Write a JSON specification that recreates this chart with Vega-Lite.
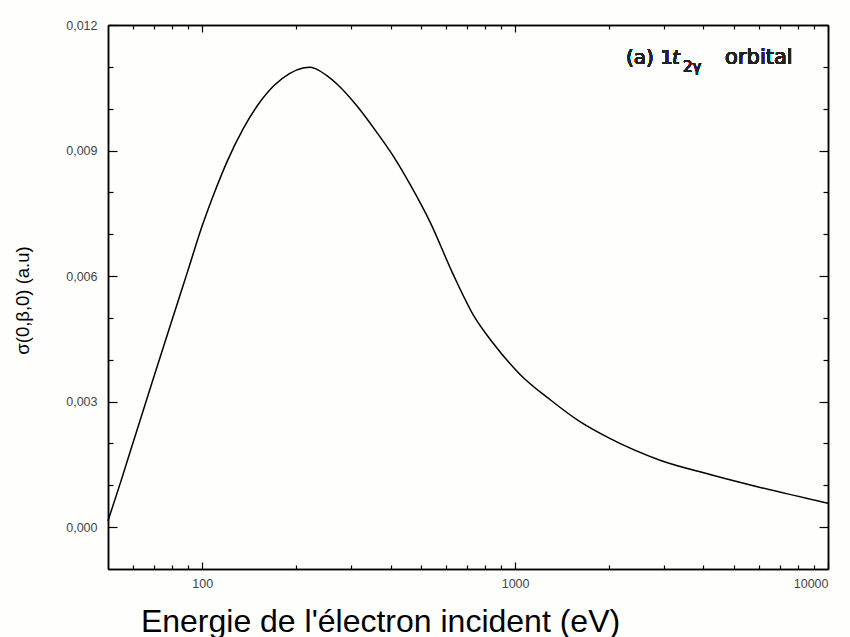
{
  "$schema": "https://vega.github.io/schema/vega-lite/v6.json",
  "width": 720,
  "height": 544,
  "autosize": {"type": "none"},
  "padding": {"left": 108, "top": 25, "right": 22, "bottom": 68},
  "background": "#fefefc",
  "config": {
    "view": {"stroke": null},
    "axis": {
      "grid": false,
      "domainColor": "black",
      "domainWidth": 1.5,
      "tickColor": "black",
      "tickWidth": 1.2,
      "labelFont": "Liberation Sans",
      "labelColor": "#444444",
      "labelFontSize": 12.5,
      "titleFont": "Liberation Sans",
      "titleFontWeight": "normal",
      "titleColor": "black"
    }
  },
  "data": {
    "values": [
      {"E": 50, "sigma": 0.00015},
      {"E": 55, "sigma": 0.0011},
      {"E": 60, "sigma": 0.002},
      {"E": 70, "sigma": 0.00358},
      {"E": 80, "sigma": 0.00494},
      {"E": 90, "sigma": 0.00613},
      {"E": 100, "sigma": 0.0072},
      {"E": 110, "sigma": 0.00804},
      {"E": 120, "sigma": 0.00873},
      {"E": 135, "sigma": 0.00951},
      {"E": 150, "sigma": 0.01007},
      {"E": 170, "sigma": 0.01056},
      {"E": 190, "sigma": 0.01084},
      {"E": 210, "sigma": 0.01097},
      {"E": 222, "sigma": 0.01099},
      {"E": 232.6, "sigma": 0.01094},
      {"E": 250.3, "sigma": 0.01079},
      {"E": 269.5, "sigma": 0.01059},
      {"E": 312, "sigma": 0.01007},
      {"E": 361, "sigma": 0.00944},
      {"E": 408.6, "sigma": 0.00886},
      {"E": 461.7, "sigma": 0.00819},
      {"E": 535, "sigma": 0.00729},
      {"E": 634, "sigma": 0.00604},
      {"E": 734, "sigma": 0.00508},
      {"E": 850, "sigma": 0.0044},
      {"E": 1037, "sigma": 0.00365},
      {"E": 1292, "sigma": 0.00305},
      {"E": 1612, "sigma": 0.00252},
      {"E": 2007, "sigma": 0.00212},
      {"E": 2904, "sigma": 0.0016},
      {"E": 4197, "sigma": 0.00126},
      {"E": 6075, "sigma": 0.00095},
      {"E": 10000, "sigma": 0.00057}
    ]
  },
  "resolve": {"axis": {"x": "independent", "y": "independent"}},
  "layer": [
    {
      "mark": {"type": "line", "color": "black", "strokeWidth": 1.5, "interpolate": "monotone"},
      "encoding": {
        "x": {
          "field": "E", "type": "quantitative",
          "scale": {"type": "log", "domain": [50, 10000], "nice": false},
          "axis": {
            "orient": "bottom", "values": [100, 1000, 10000], "format": "d",
            "tickSize": -7, "labelPadding": 15,
            "title": "Energie de l'électron incident  (eV)",
            "titleFontSize": 32, "titleX": 272, "titleY": 62,
            "titleAlign": "center", "titleBaseline": "alphabetic"
          }
        },
        "y": {
          "field": "sigma", "type": "quantitative",
          "scale": {"domain": [-0.001, 0.012], "nice": false, "zero": false},
          "axis": {
            "orient": "left", "values": [0, 0.003, 0.006, 0.009, 0.012],
            "tickSize": -9, "labelPadding": 20,
            "labelExpr": "replace(format(datum.value, '.3f'), '.', ',')",
            "title": "σ(0,β,0) (a.u)", "titleFontSize": 18.5,
            "titleX": -86, "titleY": 275, "titleAngle": -90,
            "titleAlign": "center", "titleBaseline": "middle"
          }
        }
      }
    },
    {
      "mark": {"type": "line", "strokeOpacity": 0},
      "encoding": {
        "x": {
          "field": "E", "type": "quantitative",
          "axis": {"orient": "bottom", "values": [60, 70, 80, 90, 200, 300, 400, 500, 600, 700, 800, 900, 2000, 3000, 4000, 5000, 6000, 7000, 8000, 9000], "tickSize": -4, "labels": false, "title": null}
        },
        "y": {
          "field": "sigma", "type": "quantitative",
          "axis": {"orient": "left", "values": [0.001, 0.002, 0.004, 0.005, 0.007, 0.008, 0.010, 0.011], "tickSize": -5, "labels": false, "title": null}
        }
      }
    },
    {
      "mark": {"type": "line", "strokeOpacity": 0},
      "encoding": {
        "x": {
          "field": "E", "type": "quantitative",
          "axis": {"orient": "top", "values": [100, 1000, 10000], "tickSize": -7, "labels": false, "title": null}
        },
        "y": {
          "field": "sigma", "type": "quantitative",
          "axis": {"orient": "right", "values": [0, 0.003, 0.006, 0.009, 0.012], "tickSize": -9, "labels": false, "title": null}
        }
      }
    },
    {
      "mark": {"type": "line", "strokeOpacity": 0},
      "encoding": {
        "x": {
          "field": "E", "type": "quantitative",
          "axis": {"orient": "top", "values": [60, 70, 80, 90, 200, 300, 400, 500, 600, 700, 800, 900, 2000, 3000, 4000, 5000, 6000, 7000, 8000, 9000], "tickSize": -4, "labels": false, "title": null}
        },
        "y": {
          "field": "sigma", "type": "quantitative",
          "axis": {"orient": "right", "values": [0.001, 0.002, 0.004, 0.005, 0.007, 0.008, 0.010, 0.011], "tickSize": -5, "labels": false, "title": null}
        }
      }
    },
    {
      "mark": {"type": "text", "text": "(a) 1", "font": "DejaVu Sans", "fontWeight": "normal", "fontSize": 20, "align": "left", "baseline": "alphabetic", "color": "#222222"},
      "encoding": {
        "x": {"datum": 2262, "type": "quantitative", "axis": null},
        "y": {"datum": 0.01106, "type": "quantitative", "axis": null}
      }
    },
    {
      "mark": {"type": "text", "text": "t", "font": "DejaVu Sans", "fontWeight": "normal", "fontSize": 20, "fontStyle": "italic", "align": "left", "baseline": "alphabetic", "color": "#222222"},
      "encoding": {
        "x": {"datum": 3174, "type": "quantitative", "axis": null},
        "y": {"datum": 0.01106, "type": "quantitative", "axis": null}
      }
    },
    {
      "mark": {"type": "text", "text": "2γ", "font": "DejaVu Sans", "fontWeight": "normal", "fontSize": 15, "align": "left", "baseline": "alphabetic", "color": "#222222"},
      "encoding": {
        "x": {"datum": 3441, "type": "quantitative", "axis": null},
        "y": {"datum": 0.01088, "type": "quantitative", "axis": null}
      }
    },
    {
      "mark": {"type": "text", "text": "orbital", "font": "DejaVu Sans", "fontWeight": "normal", "fontSize": 21, "align": "left", "baseline": "alphabetic", "color": "#222222"},
      "encoding": {
        "x": {"datum": 4690, "type": "quantitative", "axis": null},
        "y": {"datum": 0.01106, "type": "quantitative", "axis": null}
      }
    }
  ]
}
